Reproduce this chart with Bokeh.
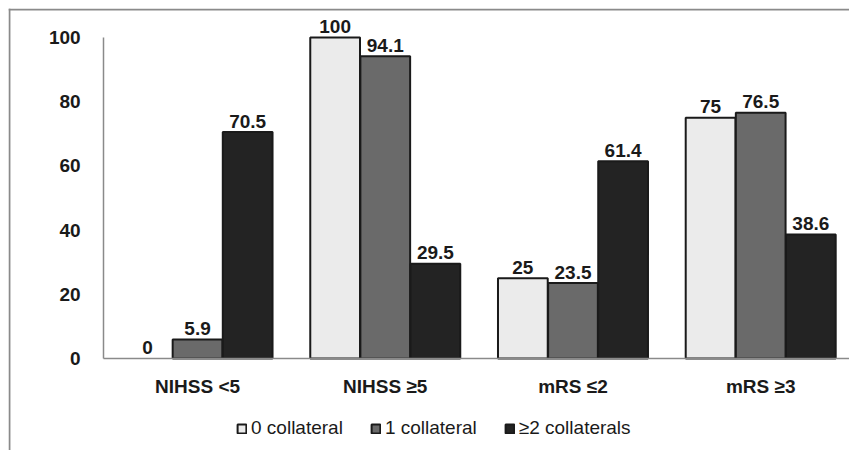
import numpy as np
from bokeh.plotting import figure
from bokeh.models import (ColumnDataSource, Legend, LegendItem, Range1d,
                          FixedTicker, Span)
from bokeh.core.properties import value
from bokeh.embed import file_html
from bokeh.resources import INLINE

categories = ["NIHSS <5", "NIHSS ≥5", "mRS ≤2", "mRS ≥3"]
series_names = ["0 collateral", "1 collateral", "≥2 collaterals"]
zero_coll = [0, 100, 25, 75]
one_coll = [5.9, 94.1, 23.5, 76.5]
two_coll = [70.5, 29.5, 61.4, 38.6]
y_ticks = [0, 20, 40, 60, 80, 100]

colors = ["#ebebeb", "#6a6a6a", "#232323"]
series = [zero_coll, one_coll, two_coll]
offsets = [-0.267, 0.0, 0.267]
FONT = "Liberation Sans"
TXT = "#1a1a1a"

centers = np.arange(len(categories)) + 0.5
X0, X1 = -0.507, 3.973
Y0, Y1 = -28.66, 109.0

p = figure(x_range=Range1d(X0, X1), y_range=Range1d(Y0, Y1),
           width=849, height=450, output_backend="svg", toolbar_location=None,
           min_border_left=8, min_border_right=0, min_border_top=8,
           min_border_bottom=0)
p.outline_line_color = None
p.xgrid.visible = False
p.ygrid.visible = False

items = []
for name, vals, col, off in zip(series_names, series, colors, offsets):
    src = ColumnDataSource(dict(x=centers + off, val=vals,
                                lab=[f"{v:g}" for v in vals],
                                la=[0.0 if v == 0 else 1.0 for v in vals]))
    r = p.vbar(x="x", top="val", bottom=0, width=0.265, source=src,
               fill_color=col, line_color="#1a1a1a", line_width=2,
               line_alpha="la")
    p.text(x="x", y="val", text="lab", source=src,
           text_align="center", text_baseline="alphabetic", y_offset=-11,
           text_font=value(FONT), text_font_style="bold",
           text_font_size="19px", text_color=TXT)
    items.append(LegendItem(label=name, renderers=[r], index=1))

# y axis pinned at x=0
yax = p.yaxis[0]
yax.fixed_location = 0
yax.ticker = FixedTicker(ticks=y_ticks)
yax.bounds = (0, 100)
yax.major_tick_line_color = None
yax.minor_tick_line_color = None
yax.axis_line_color = "#8a8a8a"
yax.axis_line_width = 1.5
yax.major_label_standoff = 17
yax.major_label_text_font = FONT
yax.major_label_text_font_style = "bold"
yax.major_label_text_font_size = "19px"
yax.major_label_text_color = TXT

# x axis pinned at y=0
xax = p.xaxis[0]
xax.fixed_location = 0
xax.ticker = FixedTicker(ticks=list(centers))
xax.major_label_overrides = {float(c): n for c, n in zip(centers, categories)}
xax.bounds = (0, X1)
xax.major_tick_line_color = None
xax.minor_tick_line_color = None
xax.axis_line_color = "#8a8a8a"
xax.axis_line_width = 1.5
xax.major_label_standoff = 12
xax.major_label_text_font = FONT
xax.major_label_text_font_style = "bold"
xax.major_label_text_font_size = "19px"
xax.major_label_text_color = TXT

legend = Legend(items=items, orientation="horizontal", location=(228, 11),
                label_text_font=FONT, label_text_font_size="19px",
                label_text_color=TXT, glyph_width=11, glyph_height=11,
                label_standoff=4, spacing=27, padding=0, margin=0,
                border_line_color=None, background_fill_alpha=0)
p.add_layout(legend, "center")

# outer frame lines (top and left)
p.add_layout(Span(location=Y1 - 0.3, dimension="width",
                  line_color="#8a8a8a", line_width=2))
p.add_layout(Span(location=X0 + 0.005, dimension="height",
                  line_color="#8a8a8a", line_width=2))

open("out.html", "w").write(file_html(p, INLINE))
